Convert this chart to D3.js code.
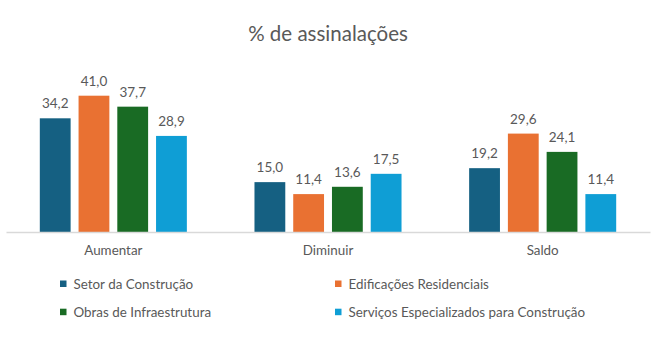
<!DOCTYPE html>
<html><head><meta charset="utf-8">
<script src="https://cdn.jsdelivr.net/npm/d3@7"></script>
<style>body{margin:0;background:#fff}svg{display:block}text{font-family:Lato,"Open Sans",sans-serif;fill:#595959}</style>
</head><body><svg id="c" width="672" height="344"></svg>
<script>
const categories = ["Aumentar", "Diminuir", "Saldo"];
const seriesNames = ["Setor da Construção", "Edificações Residenciais", "Obras de Infraestrutura", "Serviços Especializados para Construção"];
const setor = [34.2, 15.0, 19.2];
const edificacoes = [41.0, 11.4, 29.6];
const obras = [37.7, 13.6, 24.1];
const servicos = [28.9, 17.5, 11.4];
const colors = ["#156082", "#E97132", "#196B24", "#0F9ED5"];
const title = "% de assinalações";

const seriesValues = [setor, edificacoes, obras, servicos];
const svg = d3.select("#c");
const fmt = v => v.toFixed(1).replace(".", ",");

const x0 = d3.scaleBand().domain(categories).range([6, 650]).paddingInner(0.315).paddingOuter(0.1575);
const x1 = d3.scaleBand().domain(d3.range(4)).range([0, x0.bandwidth()]).paddingInner(0.205).paddingOuter(0);
const y = d3.scaleLinear().domain([0, 45]).range([232, 82.4]);

svg.append("text").attr("x", 328).attr("y", 41).attr("text-anchor", "middle")
  .style("font-size", "20.5px").text(title);

const g = svg.append("g");
categories.forEach((c, ci) => {
  seriesValues.forEach((vals, si) => {
    const bx = x0(c) + x1(si);
    g.append("rect").attr("x", bx).attr("y", y(vals[ci]))
      .attr("width", x1.bandwidth()).attr("height", y(0) - y(vals[ci]))
      .attr("fill", colors[si]);
    g.append("text").attr("x", bx + x1.bandwidth() / 2).attr("y", y(vals[ci]) - 10)
      .attr("text-anchor", "middle").style("font-size", "13.5px").text(fmt(vals[ci]));
  });
});

const xAxis = svg.append("g").attr("transform", `translate(0,${y(0)})`)
  .call(d3.axisBottom(x0).tickSize(0).tickPadding(0));
xAxis.select(".domain").attr("stroke", "#d9d9d9").attr("stroke-width", 1.3);
xAxis.selectAll("text").attr("y", 23).attr("dy", null).style("font-size", "13.4px").attr("fill", "#595959");

const legendPos = [[60, 283.5], [335, 283.5], [60, 311.7], [335, 311.7]];
seriesNames.forEach((n, i) => {
  const [lx, ly] = legendPos[i];
  svg.append("rect").attr("x", lx).attr("y", ly - 3).attr("width", 6.5).attr("height", 6.5).attr("fill", colors[i]);
  svg.append("text").attr("x", lx + 13.5).attr("y", ly + 5).style("font-size", "13.4px").text(n);
});
</script></body></html>
